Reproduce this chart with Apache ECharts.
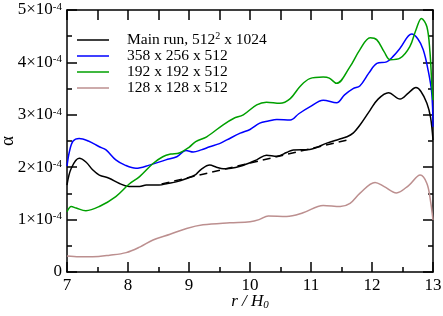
<!DOCTYPE html>
<html><head><meta charset="utf-8">
<script src="https://cdn.jsdelivr.net/npm/echarts@6/dist/echarts.min.js"></script>
<style>html,body{margin:0;padding:0;background:#fff}#c{width:443px;height:316px}</style>
</head><body><div id="c"></div>
<script>
// values of alpha in units of 1e-4, x = r/H0
const seriesNames = ['Main run, 512^2 x 1024', '358 x 256 x 512', '192 x 192 x 512', '128 x 128 x 512'];
const xTicks = [7, 8, 9, 10, 11, 12, 13];
const yTicks = [0, 1, 2, 3, 4, 5];
const mainRun = [[7.0,1.66],[7.07,1.98],[7.2,2.17],[7.31,2.1],[7.42,1.95],[7.53,1.85],[7.69,1.79],[7.86,1.69],[8.02,1.63],[8.19,1.63],[8.3,1.66],[8.51,1.66],[8.65,1.69],[8.79,1.72],[8.95,1.78],[9.11,1.86],[9.2,1.96],[9.34,2.04],[9.45,2.0],[9.56,1.97],[9.84,2.02],[10.11,2.14],[10.27,2.23],[10.44,2.21],[10.6,2.28],[10.71,2.33],[10.98,2.34],[11.26,2.46],[11.45,2.53],[11.59,2.58],[11.69,2.65],[11.8,2.8],[11.97,3.09],[12.1,3.3],[12.27,3.42],[12.46,3.3],[12.6,3.42],[12.72,3.52],[12.8,3.45],[12.9,3.22],[12.96,2.95],[13.0,2.52]];
const run358 = [[7.0,2.02],[7.04,2.3],[7.1,2.5],[7.2,2.55],[7.35,2.5],[7.53,2.39],[7.64,2.33],[7.8,2.14],[7.95,2.04],[8.13,1.98],[8.35,2.04],[8.62,2.14],[8.8,2.2],[8.95,2.32],[9.07,2.29],[9.2,2.33],[9.34,2.39],[9.5,2.45],[9.62,2.52],[9.84,2.65],[10.0,2.72],[10.16,2.84],[10.3,2.88],[10.44,2.91],[10.66,2.9],[10.8,3.02],[10.98,3.15],[11.2,3.28],[11.42,3.23],[11.55,3.38],[11.69,3.5],[11.8,3.55],[11.95,3.8],[12.08,3.98],[12.24,4.01],[12.35,4.12],[12.46,4.27],[12.65,4.54],[12.75,4.45],[12.84,4.24],[12.92,3.85],[12.98,3.41],[13.0,2.77]];
const run192 = [[7.0,1.15],[7.07,1.25],[7.15,1.22],[7.31,1.17],[7.53,1.25],[7.8,1.44],[8.02,1.68],[8.19,1.82],[8.41,2.07],[8.57,2.2],[8.7,2.25],[8.84,2.27],[9.0,2.38],[9.11,2.49],[9.29,2.58],[9.56,2.81],[9.73,2.93],[9.89,3.0],[10.11,3.19],[10.27,3.24],[10.49,3.22],[10.66,3.31],[10.82,3.54],[10.98,3.69],[11.2,3.72],[11.3,3.7],[11.42,3.6],[11.64,3.92],[11.8,4.24],[11.97,4.47],[12.08,4.43],[12.2,4.2],[12.3,4.05],[12.46,4.08],[12.62,4.3],[12.72,4.62],[12.81,4.84],[12.9,4.68],[12.95,4.2],[12.98,3.6],[13.0,3.28]];
const run128 = [[7.0,0.305],[7.2,0.29],[7.42,0.29],[7.7,0.32],[7.97,0.37],[8.2,0.48],[8.41,0.61],[8.69,0.72],[8.96,0.83],[9.23,0.9],[9.67,0.94],[10.0,0.96],[10.15,1.0],[10.3,1.07],[10.6,1.06],[10.87,1.13],[11.2,1.27],[11.48,1.25],[11.64,1.31],[11.8,1.5],[12.05,1.71],[12.2,1.63],[12.4,1.51],[12.6,1.65],[12.79,1.85],[12.9,1.69],[12.96,1.35],[13.0,0.99]];
const fitLine = [[8.55,1.68],[11.6,2.52]];

const FONT = 'Liberation Serif';
const colors = ['#000000', '#0000ff', '#00a000', '#bc8f8f'];
const chart = echarts.init(document.getElementById('c'), null, {renderer: 'canvas'});

function axisBase(pos, minorLen, onZero) {
  return {
    position: pos,
    axisLine: {show: true, onZero: onZero, lineStyle: {color: '#000', width: 1.5}},
    axisTick: {show: true, inside: true, length: 10, lineStyle: {color: '#000', width: 1.5}},
    minorTick: {show: true, splitNumber: 2, length: minorLen, lineStyle: {color: '#000', width: 1.5}},
    splitLine: {show: false}
  };
}

const xa = (pos, show, ml, oz) => Object.assign(axisBase(pos, ml, oz), {
  type: 'value', min: xTicks[0], max: xTicks[xTicks.length - 1], interval: 1,
  axisLabel: {show: show, color: '#000', fontFamily: FONT, fontSize: 17, margin: 5}
});
const ya = (pos, show, ml, oz) => Object.assign(axisBase(pos, ml, oz), {
  type: 'value', min: yTicks[0], max: yTicks[yTicks.length - 1], interval: 1,
  axisLabel: {show: show, margin: 5,
    formatter: v => v === 0 ? '{a|0}' : '{a|' + v + '×10}{s|-4}',
    rich: {a: {fontFamily: FONT, fontSize: 17, color: '#000'},
           s: {fontFamily: FONT, fontSize: 11, color: '#000', verticalAlign: 'top', padding: [0, 0, 6, 0]}}}
});

const xBottom = xa('bottom', true, 5, true);
xBottom.name = '{i|r / H}{sub|0}';
xBottom.nameLocation = 'middle';
xBottom.nameGap = 20;
xBottom.nameMoveOverlap = false;
xBottom.nameTextStyle = {rich: {
  i: {fontFamily: FONT, fontStyle: 'italic', fontSize: 17, color: '#000'},
  sub: {fontFamily: FONT, fontStyle: 'italic', fontSize: 11, color: '#000', verticalAlign: 'bottom', padding: [8, 0, 0, 0]}}};
const yLeft = ya('left', true, 5, true);
yLeft.name = 'α';
yLeft.nameLocation = 'middle';
yLeft.nameGap = 49;
yLeft.nameMoveOverlap = false;
yLeft.nameTextStyle = {fontFamily: FONT, fontSize: 19, color: '#000'};

const lineSeries = (name, data, color) => ({
  name: name, type: 'line', data: data, smooth: 0.35, showSymbol: false, symbol: 'none',
  lineStyle: {color: color, width: 1.5}, itemStyle: {color: color}, silent: true, animation: false,
  clip: true
});

chart.setOption({
  animation: false,
  grid: {left: 67, right: 10, top: 10, bottom: 44, containLabel: false, outerBoundsMode: 'none'},
  xAxis: [xBottom, xa('top', false, 10, false)],
  yAxis: [yLeft, ya('right', false, 5, false)],
  legend: {
    data: seriesNames, orient: 'vertical', left: 72, top: 26,
    icon: 'rect', itemWidth: 32, itemHeight: 1.5, itemGap: 0,
    formatter: n => n === seriesNames[0] ? '{f|Main run, 512}{s|2}{f| x 1024}' : '{t|' + n + '}',
    textStyle: {padding: [0, 0, 0, 13], rich: {
      f: {fontFamily: FONT, fontSize: 15.5, color: '#000', lineHeight: 22},
      t: {fontFamily: FONT, fontSize: 15.5, color: '#000', lineHeight: 15.5},
      s: {fontFamily: FONT, fontSize: 10, color: '#000', verticalAlign: 'top', padding: [2, 0, 0, 0]}}}
  },
  series: [
    lineSeries(seriesNames[0], mainRun, colors[0]),
    lineSeries(seriesNames[1], run358, colors[1]),
    lineSeries(seriesNames[2], run192, colors[2]),
    lineSeries(seriesNames[3], run128, colors[3]),
    {name: 'fit', type: 'line', data: fitLine, showSymbol: false, symbol: 'none', silent: true,
     lineStyle: {color: '#000', width: 1.5, type: [8, 5]}}
  ]
});
</script></body></html>
